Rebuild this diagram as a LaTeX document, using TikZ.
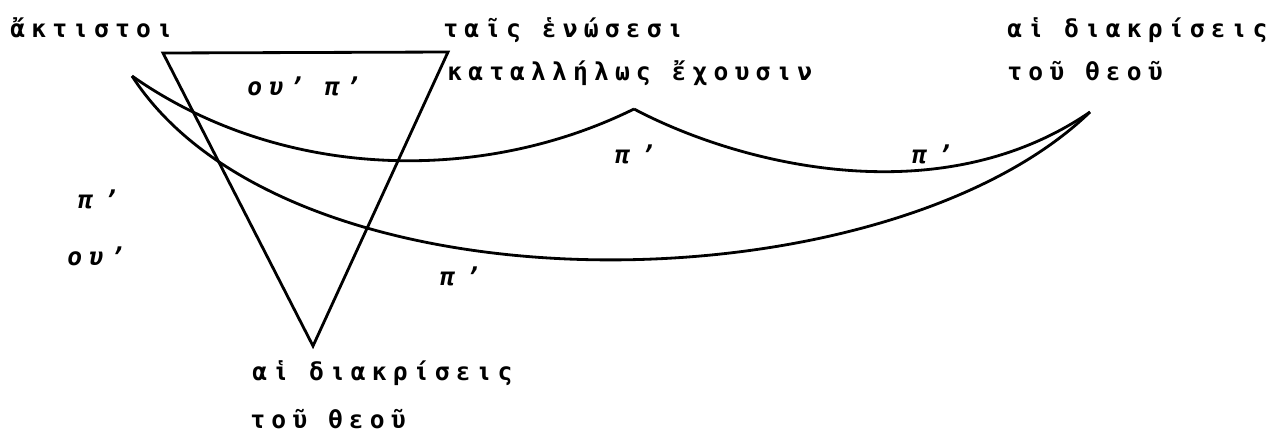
\documentclass[tikz,border=0pt]{standalone}
\usepackage{fontspec}
\newfontfamily\gtt[LetterSpace=25]{DejaVu Sans Mono Bold}
\newfontfamily\gti[LetterSpace=25]{DejaVu Sans Mono Bold Oblique}
\begin{document}
\begin{tikzpicture}[x=0.02cm,y=-0.02cm,
  lbl/.style={anchor=base west,inner sep=0pt,font=\fontsize{14}{16}\gtt},
  ilbl/.style={anchor=base west,inner sep=0pt,font=\fontsize{14}{16}\gti},
  ln/.style={line width=1.6pt,line join=miter,line cap=butt}]
\useasboundingbox (0,0) rectangle (1278,437);
% texts
\node[lbl] (akt) at (10,37) {ἄκτιστοι};
\node[lbl] (tais) at (443,37) {ταῖς ἑνώσεσι};
\node[lbl] (kat) at (447,80) {καταλλήλως ἔχουσιν};
\node[lbl] (diakrR) at (1007,37) {αἱ διακρίσεις};
\node[lbl] (theouR) at (1007,80) {τοῦ θεοῦ};
\node[lbl] (diakrB) at (252,380) {αἱ διακρίσεις};
\node[lbl] (theouB) at (250,428) {τοῦ θεοῦ};
% italic labels
\node[ilbl] (oupi) at (247,95) {ου’ π’};
\node[ilbl] (piL) at (78,208) {π\kern6pt’};
\node[ilbl] (ouL) at (67,265) {ου\kern4pt’};
\node[ilbl] (piC) at (615,163) {π\kern6pt’};
\node[ilbl] (piR) at (912,163) {π\kern6pt’};
\node[ilbl] (piB) at (440,285) {π\kern6pt’};
% points
\coordinate (T1) at (163,53);
\coordinate (T2) at (448,52);
\coordinate (T3) at (313,346);
\coordinate (L) at (132,76);
\coordinate (C) at (634,109);
\coordinate (R) at (1090,112);
% triangle
\draw[ln] (T1) -- (T2) -- (T3) -- cycle;
% curves
\draw[ln] (L) .. controls (280,180) and (480,185) .. (C);
\draw[ln] (C) .. controls (740,165) and (940,215) .. (R);
\draw[ln] (L) .. controls (290,320) and (885,310) .. (R);
\end{tikzpicture}
\end{document}
